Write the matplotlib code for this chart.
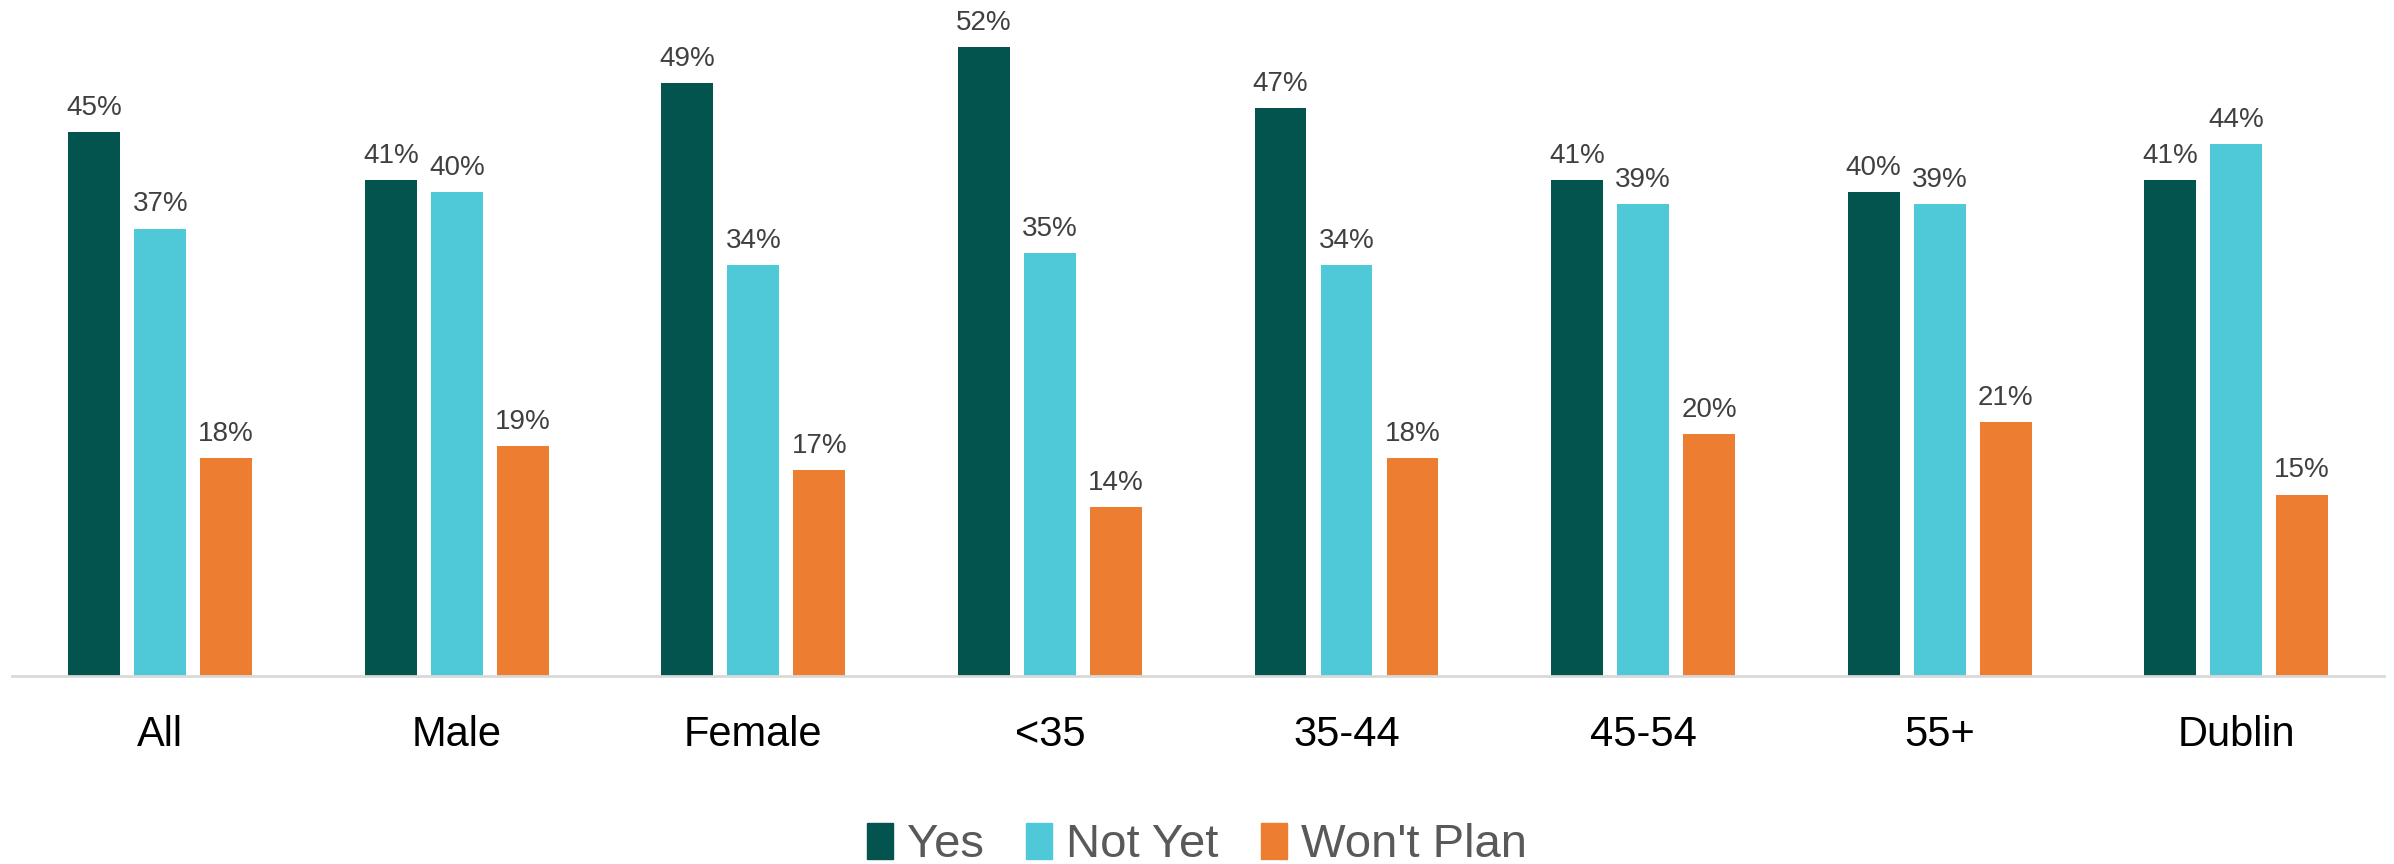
import matplotlib
matplotlib.use("Agg")
import matplotlib.pyplot as plt
import numpy as np
from matplotlib.patches import Patch

plt.rcParams['font.family'] = ['Liberation Sans', 'DejaVu Sans']

categories = ["All", "Male", "Female", "<35", "35-44", "45-54", "55+", "Dublin"]
series_names = ["Yes", "Not Yet", "Won't Plan"]
yes = [45, 41, 49, 52, 47, 41, 40, 41]
not_yet = [37, 40, 34, 35, 34, 39, 39, 44]
wont_plan = [18, 19, 17, 14, 18, 20, 21, 15]
colors = ["#03544F", "#4FC8D8", "#ED7D31"]

fig = plt.figure(figsize=(23.94, 8.64), dpi=100)
ax = fig.add_axes([0.005, 1 - 676 / 864, 0.991, 676 / 864])

x = np.arange(len(categories))
width = 0.175
offset = 0.2225
for i, (vals, name, c) in enumerate(zip([yes, not_yet, wont_plan], series_names, colors)):
    pos = x + (i - 1) * offset
    bars = ax.bar(pos, vals, width=width, color=c, label=name)
    for b, v in zip(bars, vals):
        ax.annotate(f"{v}%", (b.get_x() + b.get_width() / 2, v),
                    xytext=(0, 8), textcoords="offset points",
                    ha="center", va="bottom", fontsize=20, color="#404040")

ax.set_xlim(-0.5, 7.5)
ax.set_ylim(0, 55.9)
ax.set_xticks(x)
ax.set_xticklabels(categories, fontsize=30, color="black")
ax.tick_params(axis="x", length=0, pad=28)
ax.set_yticks([])
for s in ["top", "right", "left"]:
    ax.spines[s].set_visible(False)
ax.spines["bottom"].set_color("#D9D9D9")
ax.spines["bottom"].set_linewidth(2)

handles = [Patch(color=c, label=n) for c, n in zip(colors, series_names)]
fig.legend(handles=handles, loc="center", bbox_to_anchor=(0.5, 0.022), ncol=3,
           frameon=False, fontsize=34, handlelength=0.55, handleheight=0.8,
           handletextpad=0.3, columnspacing=0.9, labelcolor="#595959")

fig.savefig("out.png", dpi=100)
